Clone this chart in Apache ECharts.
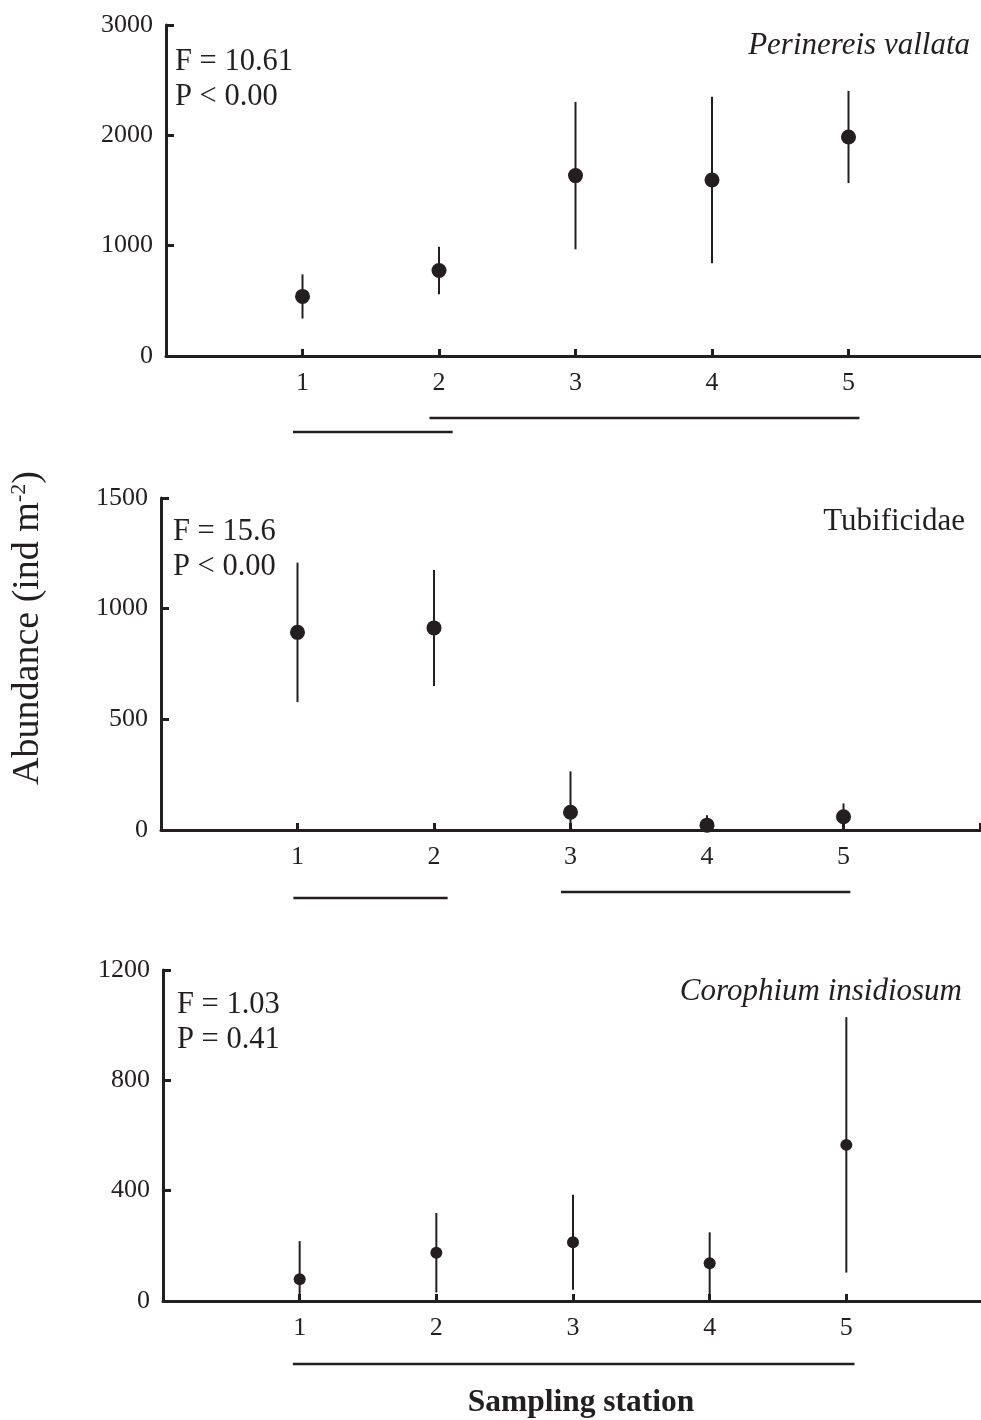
<!DOCTYPE html>
<html>
<head>
<meta charset="utf-8">
<script src="https://cdn.jsdelivr.net/npm/echarts@6/dist/echarts.min.js"></script>
<style>
  html, body { margin: 0; padding: 0; background: #fff; }
  #chart { width: 981px; height: 1420px; }
</style>
</head>
<body>
<div id="chart"></div>
<script>
const stations = [1, 2, 3, 4, 5];

// mean abundance and error
const perinereisMean = [540, 775, 1635, 1595, 1985];
const perinereisErr = [200, 215, 668, 755, 418];
const tubificidaeMean = [893, 913, 80, 22, 60];
const tubificidaeErr = [315, 262, 185, 45, 60];
const corophiumMean = [79, 175, 213, 137, 566];
const corophiumErr = [138, 144, 172, 112, 463];

const yMax = [3000, 1500, 1200];
const yInterval = [1000, 500, 400];

const speciesNames = ['Perinereis vallata', 'Tubificidae', 'Corophium insidiosum'];
const statLines = [
    ['F = 10.61', 'P < 0.00'],
    ['F = 15.6', 'P < 0.00'],
    ['F = 1.03', 'P = 0.41'],
];

// homogeneous groups drawn under each panel: [from station, to station]
const groups = [
    [[0.93, 2.1], [1.93, 5.08]],
    [[0.97, 2.1], [2.93, 5.05]],
    [[0.95, 5.06]],
];
const groupOffsets = [[76, 62], [68, 62], [63]];

const ink = '#231f20';
const serif = '"Liberation Serif", "DejaVu Serif", serif';

const grids = [
    { left: 166, top: 25, height: 331, right: -4 },
    { left: 161, top: 498, height: 332, right: 1 },
    { left: 163, top: 970, height: 331, right: -2 },
];
const dotSizes = [15, 15, 12];
const means = [perinereisMean, tubificidaeMean, corophiumMean];
const errs = [perinereisErr, tubificidaeErr, corophiumErr];

function errorBarItem(params, api) {
    const x = api.value(0);
    const m = api.value(1);
    const e = api.value(2);
    const top = api.coord([x, m + e]);
    const bot = api.coord([x, Math.max(0, m - e)]);
    return {
        type: 'line',
        shape: { x1: top[0], y1: top[1], x2: bot[0], y2: bot[1] },
        style: { stroke: ink, lineWidth: 2 },
    };
}

function groupLineItem(params, api) {
    const a = api.coord([api.value(0), 0]);
    const b = api.coord([api.value(1), 0]);
    const off = api.value(2);
    return {
        type: 'line',
        shape: { x1: a[0], y1: a[1] + off, x2: b[0], y2: b[1] + off },
        style: { stroke: ink, lineWidth: 2.5 },
    };
}

const xAxes = grids.map((g, i) => ({
    type: 'value',
    gridIndex: i,
    min: 0,
    max: 6,
    interval: 1,
    axisLine: { show: true, lineStyle: { color: ink, width: 3 } },
    axisTick: { show: true, inside: true, length: 7, lineStyle: { color: ink, width: 3 } },
    axisLabel: {
        margin: 14, fontSize: 26, fontFamily: serif, color: ink,
        formatter: v => (stations.includes(v) ? String(v) : ''),
    },
    splitLine: { show: false },
}));

const yAxes = grids.map((g, i) => ({
    type: 'value',
    gridIndex: i,
    min: 0,
    max: yMax[i],
    interval: yInterval[i],
    axisLine: { show: true, lineStyle: { color: ink, width: 3 } },
    axisTick: { show: true, inside: true, length: 8, lineStyle: { color: ink, width: 3 } },
    axisLabel: { margin: 13, fontSize: 26, fontFamily: serif, color: ink, formatter: v => String(v) },
    splitLine: { show: false },
}));

const series = [];
grids.forEach((g, i) => {
    series.push({
        type: 'custom',
        xAxisIndex: i,
        yAxisIndex: i,
        renderItem: errorBarItem,
        data: stations.map((s, k) => [s, means[i][k], errs[i][k]]),
        z: 2,
        silent: true,
    });
    series.push({
        type: 'scatter',
        xAxisIndex: i,
        yAxisIndex: i,
        symbol: 'circle',
        symbolSize: dotSizes[i],
        itemStyle: { color: ink, opacity: 1 },
        data: stations.map((s, k) => [s, means[i][k]]),
        z: 3,
        silent: true,
    });
    series.push({
        type: 'custom',
        xAxisIndex: i,
        yAxisIndex: i,
        renderItem: groupLineItem,
        data: groups[i].map((r, k) => [r[0], r[1], groupOffsets[i][k]]),
        clip: false,
        silent: true,
    });
});

const statPos = [[175, 62, 97], [173, 532, 567], [177, 1005, 1040]];
const namePos = [[970, 46, 'italic'], [965, 522, 'normal'], [962, 992, 'italic']];

const graphics = [];
grids.forEach((g, i) => {
    statLines[i].forEach((t, k) => {
        graphics.push({
            type: 'text', x: statPos[i][0], y: statPos[i][k + 1],
            style: { text: t, fontSize: 30.5, fontFamily: serif, fill: ink, textAlign: 'left', textVerticalAlign: 'middle' },
        });
    });
    graphics.push({
        type: 'text', x: namePos[i][0], y: namePos[i][1],
        style: {
            text: speciesNames[i], fontSize: 31, fontStyle: namePos[i][2], fontFamily: serif,
            fill: ink, textAlign: 'right', textVerticalAlign: 'middle',
        },
    });
});
graphics.push({
    type: 'text', x: 581, y: 1403,
    style: { text: 'Sampling station', fontSize: 31.5, fontWeight: 'bold', fontFamily: serif, fill: ink, textAlign: 'center', textVerticalAlign: 'middle' },
});
graphics.push({
    type: 'text', x: 28, y: 628, rotation: Math.PI / 2,
    style: {
        text: '{a|Abundance (ind m}{s|-2}{a|)}',
        textAlign: 'center', textVerticalAlign: 'middle',
        rich: {
            a: { fontSize: 38, fontFamily: serif, fill: ink, color: ink, lineHeight: 40 },
            s: { fontSize: 22, fontFamily: serif, fill: ink, color: ink, verticalAlign: 'top', lineHeight: 40 },
        },
    },
});

const chart = echarts.init(document.getElementById('chart'), null, { renderer: 'canvas' });
chart.setOption({
    backgroundColor: '#fff',
    animation: false,
    grid: grids.map(g => Object.assign({ containLabel: false, outerBoundsMode: 'none' }, g)),
    xAxis: xAxes,
    yAxis: yAxes,
    series: series,
    graphic: graphics,
});
</script>
</body>
</html>
